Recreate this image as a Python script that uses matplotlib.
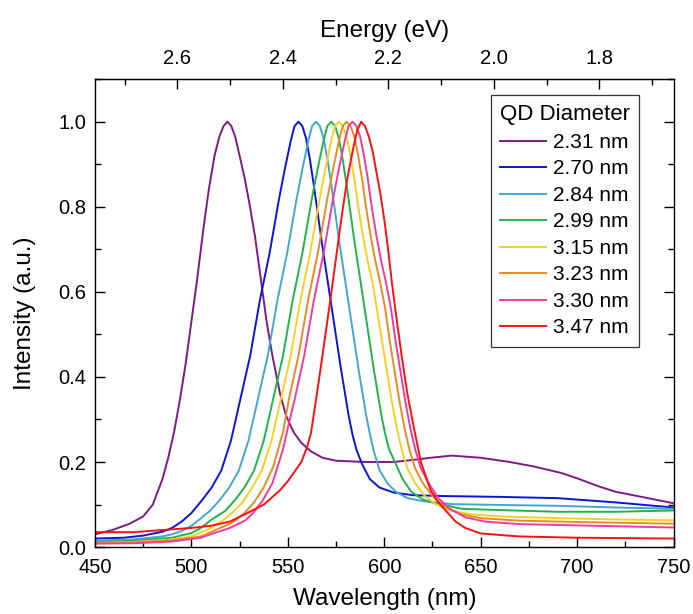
import matplotlib
matplotlib.use("Agg")
from matplotlib import pyplot as plt
from matplotlib.ticker import MultipleLocator, FixedLocator, FormatStrFormatter

plt.rcParams['font.family'] = ['Liberation Sans', 'DejaVu Sans']

# QD diameters (legend) and line colours
labels = ["2.31 nm", "2.70 nm", "2.84 nm", "2.99 nm", "3.15 nm", "3.23 nm", "3.30 nm", "3.47 nm"]
colors = ["#7d1a88", "#0a14e0", "#40a8d0", "#22b44a", "#f8d020", "#e88c20", "#f03c9c", "#ff1010"]

# spectra: wavelength (nm) and normalised intensity
wl_231 = [450, 459, 468, 475, 480, 485, 488, 491, 494, 497, 500, 503, 506, 509, 512, 514.5, 516.7, 518.7,
          520.7, 522.7, 525, 527.5, 530, 533, 536, 539, 542, 546, 549, 553, 557, 562, 568, 575, 590, 605,
          615, 624, 635, 650, 665, 677, 692, 701, 711, 720, 729, 740, 750]
pl_231 = [0.03, 0.04, 0.055, 0.072, 0.1, 0.16, 0.21, 0.27, 0.345, 0.43, 0.53, 0.63, 0.74, 0.84, 0.92, 0.965,
          0.99, 1.0, 0.99, 0.965, 0.92, 0.87, 0.81, 0.73, 0.63, 0.53, 0.45, 0.36, 0.31, 0.27, 0.245, 0.225,
          0.21, 0.203, 0.2, 0.2, 0.205, 0.21, 0.215, 0.21, 0.2, 0.19, 0.174, 0.16, 0.143, 0.13, 0.122, 0.112, 0.103]

wl_270 = [450, 465, 475, 485, 490, 495, 500, 505.5, 510.5, 515.5, 520.5, 525.5, 530.5, 535.5, 540.5, 545.5,
          548.5, 551.5, 553.5, 555.5, 557.5, 559.5, 561.5, 563.5, 565.5, 567.5, 569.5, 571.5, 573.5, 575.5,
          577.5, 579.5, 581.5, 583.5, 585.5, 588.5, 592.5, 597.5, 605, 615, 630, 660, 690, 720, 750]
pl_270 = [0.02, 0.022, 0.027, 0.036, 0.045, 0.06, 0.08, 0.11, 0.14, 0.18, 0.25, 0.35, 0.45, 0.58, 0.69, 0.82,
          0.89, 0.955, 0.99, 1.0, 0.99, 0.96, 0.91, 0.85, 0.785, 0.72, 0.66, 0.6, 0.54, 0.48, 0.42, 0.365,
          0.31, 0.265, 0.23, 0.195, 0.16, 0.14, 0.128, 0.122, 0.12, 0.118, 0.115, 0.105, 0.093]

wl_284 = [450, 470, 485, 490, 495, 500, 505, 509.6, 514.6, 519.6, 524.6, 529.6, 534.6, 539.6, 544.6, 549.6,
          554.6, 557.6, 560.6, 562.6, 564.6, 566.6, 568.6, 570.6, 572.6, 574.6, 576.6, 578.6, 580.6, 582.6,
          584.6, 586.6, 588.6, 590.6, 592.6, 594.6, 597.6, 601.6, 606, 612, 620, 635, 660, 690, 720, 750]
pl_284 = [0.015, 0.018, 0.025, 0.03, 0.038, 0.05, 0.068, 0.085, 0.11, 0.14, 0.18, 0.25, 0.35, 0.45, 0.58, 0.69,
          0.82, 0.89, 0.955, 0.99, 1.0, 0.99, 0.96, 0.91, 0.85, 0.785, 0.72, 0.66, 0.6, 0.54, 0.48, 0.42,
          0.365, 0.31, 0.265, 0.225, 0.18, 0.15, 0.13, 0.115, 0.108, 0.101, 0.099, 0.097, 0.093, 0.09]

wl_299 = [450, 470, 490, 500, 505, 510, 517.5, 522.5, 527.5, 532.5, 537.5, 542.5, 547.5, 552.5, 557.5, 562.5,
          565.5, 568.5, 570.5, 572.5, 574.5, 576.5, 578.5, 580.5, 582.5, 584.5, 586.5, 588.5, 590.5, 592.5,
          594.5, 596.5, 598.5, 600.5, 602.5, 605.5, 609.5, 614, 620, 625, 640, 660, 690, 720, 750]
pl_299 = [0.012, 0.015, 0.022, 0.033, 0.045, 0.063, 0.085, 0.11, 0.14, 0.18, 0.25, 0.35, 0.45, 0.58, 0.69,
          0.82, 0.89, 0.955, 0.99, 1.0, 0.99, 0.96, 0.91, 0.85, 0.785, 0.72, 0.66, 0.6, 0.54, 0.48, 0.42,
          0.365, 0.31, 0.265, 0.23, 0.2, 0.16, 0.13, 0.112, 0.105, 0.09, 0.087, 0.083, 0.083, 0.086]

wl_315 = [450, 470, 490, 500, 508, 512, 516.5, 521.5, 526.5, 531.5, 536.5, 541.5, 546.5, 551.5, 556.5, 561.5,
          566.5, 569.5, 572.5, 574.5, 576.5, 578.5, 580.5, 582.5, 584.5, 586.5, 589, 591.5, 594, 596.5, 599,
          601.5, 604, 606.5, 609, 612, 616, 621, 627, 635, 645, 660, 690, 720, 750]
pl_315 = [0.01, 0.012, 0.018, 0.025, 0.04, 0.05, 0.063, 0.082, 0.105, 0.14, 0.18, 0.25, 0.35, 0.45, 0.58, 0.69,
          0.82, 0.89, 0.955, 0.99, 1.0, 0.99, 0.965, 0.92, 0.865, 0.8, 0.73, 0.67, 0.62, 0.55, 0.48, 0.41,
          0.34, 0.28, 0.23, 0.185, 0.15, 0.12, 0.1, 0.085, 0.077, 0.072, 0.068, 0.065, 0.063]

wl_323 = [450, 470, 490, 505, 515, 520, 523, 527.5, 532.5, 537.5, 542.5, 547.5, 550.5, 555.5, 560.5, 565.5,
          570.5, 573.5, 576.5, 578.5, 580.5, 582.5, 584.5, 586.5, 588.5, 590.5, 593, 595.5, 598, 600.5, 603,
          605.5, 608, 610.5, 613, 616, 620, 625, 631, 640, 650, 670, 700, 750]
pl_323 = [0.01, 0.011, 0.016, 0.025, 0.045, 0.055, 0.063, 0.08, 0.105, 0.14, 0.19, 0.27, 0.346, 0.45, 0.58,
          0.69, 0.82, 0.89, 0.955, 0.99, 1.0, 0.99, 0.965, 0.92, 0.865, 0.8, 0.73, 0.67, 0.62, 0.56, 0.48,
          0.41, 0.34, 0.28, 0.23, 0.185, 0.15, 0.12, 0.095, 0.077, 0.068, 0.062, 0.059, 0.055]

wl_330 = [450, 470, 490, 505, 512, 520, 528, 532, 537, 542, 547.4, 550.5, 553.5, 558.5, 563.5, 568.5, 573.5,
          576.5, 579.5, 581.5, 583.5, 585.5, 587.5, 589.5, 591.5, 593.5, 596, 598.5, 601, 603.5, 606, 608.5,
          611, 613.5, 616, 619, 623, 628, 634, 642, 652, 670, 700, 750]
pl_330 = [0.008, 0.009, 0.013, 0.022, 0.033, 0.045, 0.063, 0.08, 0.11, 0.15, 0.228, 0.29, 0.346, 0.45, 0.58,
          0.69, 0.82, 0.89, 0.955, 0.99, 1.0, 0.99, 0.965, 0.92, 0.865, 0.8, 0.73, 0.67, 0.62, 0.56, 0.48,
          0.41, 0.34, 0.28, 0.23, 0.185, 0.15, 0.115, 0.09, 0.07, 0.06, 0.054, 0.051, 0.046]

wl_347 = [450, 470, 485, 500, 510, 520, 529, 537.6, 546, 550, 553, 557, 560, 562, 564.6, 567, 569.5, 572, 575,
          578, 581, 584, 586, 588, 590, 592, 594, 596, 598, 600, 602, 604, 606, 609, 612, 615.6, 619, 622, 624,
          627, 630, 633, 637, 642, 650, 670, 700, 750]
pl_347 = [0.035, 0.035, 0.04, 0.045, 0.05, 0.06, 0.08, 0.1, 0.134, 0.155, 0.174, 0.2, 0.235, 0.268, 0.346,
          0.42, 0.5, 0.58, 0.68, 0.78, 0.87, 0.94, 0.98, 1.0, 0.99, 0.965, 0.93, 0.88, 0.83, 0.77, 0.7, 0.62,
          0.55, 0.45, 0.36, 0.275, 0.2, 0.16, 0.134, 0.112, 0.095, 0.08, 0.06, 0.045, 0.032, 0.025, 0.022, 0.02]

wavelengths = [wl_231, wl_270, wl_284, wl_299, wl_315, wl_323, wl_330, wl_347]
spectra = [pl_231, pl_270, pl_284, pl_299, pl_315, pl_323, pl_330, pl_347]

ev_major = [2.6, 2.4, 2.2, 2.0, 1.8]
ev_minor = [2.7, 2.5, 2.3, 2.1, 1.9, 1.7]


# top axis in the original is a linear energy scale
def wl_to_ev(w):
    return 2.6 - (w - 492.7) * 0.2 / 54.7


def ev_to_wl(e):
    return 492.7 + (2.6 - e) * 54.7 / 0.2


fig = plt.figure(figsize=(6.93, 6.14), dpi=100)
ax = fig.add_axes([0.137, 0.109, 0.835, 0.762])

for wl, pl, c, lab in zip(wavelengths, spectra, colors, labels):
    ax.plot(wl, pl, color=c, lw=1.4, label=lab)

ax.set_xlim(450, 750)
ax.set_ylim(0, 1.1)
ax.xaxis.set_major_locator(MultipleLocator(50))
ax.xaxis.set_minor_locator(MultipleLocator(25))
ax.yaxis.set_major_locator(MultipleLocator(0.2))
ax.yaxis.set_minor_locator(MultipleLocator(0.1))
ax.yaxis.set_major_formatter(FormatStrFormatter('%.1f'))
ax.tick_params(which='both', direction='in', right=True, labelsize=14.5, width=1.0)
ax.tick_params(which='major', length=7)
ax.tick_params(which='minor', length=4.5)
ax.tick_params(axis='x', pad=8)
ax.tick_params(axis='y', pad=6)
for s in ax.spines.values():
    s.set_linewidth(1.0)

ax.set_xlabel("Wavelength (nm)", fontsize=17.5, labelpad=8)
ax.set_ylabel("Intensity (a.u.)", fontsize=17.5, labelpad=16)

top = ax.secondary_xaxis('top', functions=(wl_to_ev, ev_to_wl))
top.xaxis.set_major_locator(FixedLocator(ev_major))
top.xaxis.set_minor_locator(FixedLocator(ev_minor))
top.xaxis.set_major_formatter(FormatStrFormatter('%.1f'))
top.tick_params(which='both', direction='in', labelsize=14.5, width=1.0, pad=8)
top.tick_params(which='major', length=7)
top.tick_params(which='minor', length=4.5)
top.set_xlabel("Energy (eV)", fontsize=17.5, labelpad=9)

leg = ax.legend(title="QD Diameter", loc='upper left', bbox_to_anchor=(0.684, 0.966),
                borderaxespad=0, fontsize=15, title_fontsize=16, fancybox=False,
                edgecolor='#333333', framealpha=1, handlelength=2.2, handletextpad=0.34,
                labelspacing=0.36, borderpad=0.45)
leg._legend_box.align = "left"
leg.get_frame().set_linewidth(0.9)

fig.savefig("out.png", dpi=100)
